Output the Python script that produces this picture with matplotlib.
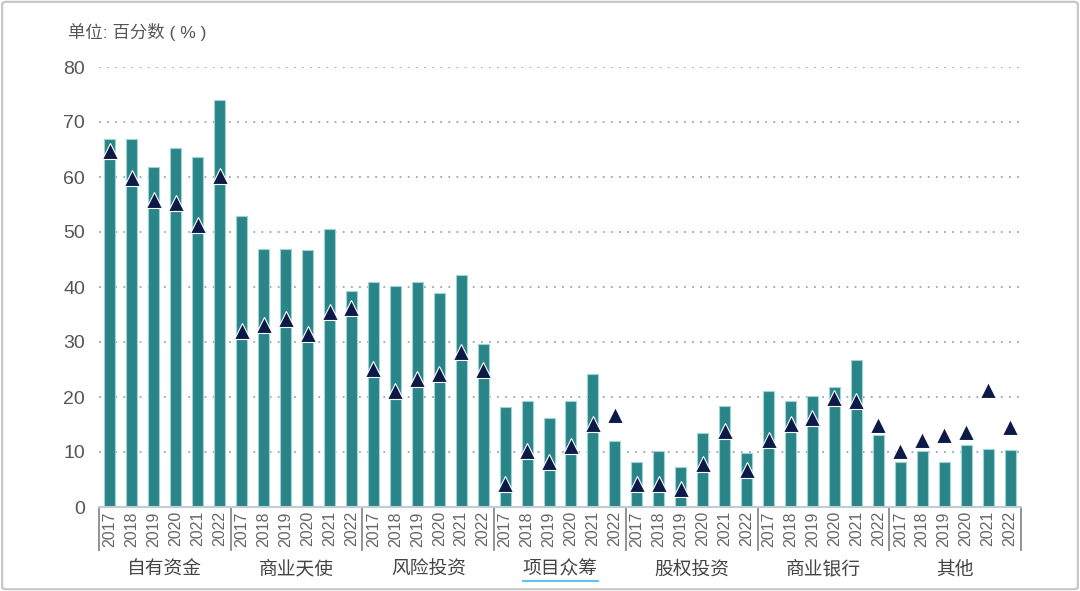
import matplotlib
matplotlib.use('Agg')
import matplotlib.pyplot as plt
from matplotlib.patches import FancyBboxPatch
import matplotlib.transforms as mtransforms
import numpy as np

plt.rcParams['font.family'] = ['Liberation Sans', 'Noto Sans CJK SC', 'DejaVu Sans']

groups = ['自有资金', '商业天使', '风险投资', '项目众筹', '股权投资', '商业银行', '其他']
years = ['2017', '2018', '2019', '2020', '2021', '2022']

# bar heights per group (2017-2022)
bar_vals = [
    [66.9, 66.9, 61.9, 65.2, 63.6, 74.0],
    [53.0, 47.0, 47.0, 46.7, 50.5, 39.3],
    [41.0, 40.1, 41.0, 39.0, 42.1, 29.6],
    [18.1, 19.2, 16.1, 19.3, 24.1, 12.0],
    [8.1, 10.2, 7.2, 13.5, 18.3, 9.9],
    [21.1, 19.2, 20.1, 21.8, 26.7, 13.1],
    [8.1, 10.2, 8.1, 11.2, 10.5, 10.4],
]
# triangle markers per group (2017-2022)
tri_vals = [
    [64.7, 59.9, 55.9, 55.2, 51.2, 60.1],
    [32.0, 33.1, 34.2, 31.5, 35.4, 36.1],
    [25.1, 21.1, 23.3, 24.1, 28.1, 24.9],
    [4.2, 10.2, 8.1, 11.1, 15.1, 16.7],
    [4.2, 4.2, 3.2, 7.8, 13.9, 6.7],
    [12.2, 15.1, 16.1, 19.8, 19.2, 15.0],
    [10.2, 12.2, 13.1, 13.7, 21.2, 14.6],
]

bars = np.array(bar_vals).ravel()
tris = np.array(tri_vals).ravel()
x = np.arange(len(bars))
ng = len(years)

fig = plt.figure(figsize=(10.8, 5.91), dpi=100)
ax = fig.add_axes([99 / 1080, 1 - 507 / 591, 922 / 1080, 440 / 591])

# frame around the picture
fig.patches.append(FancyBboxPatch((0.002, 0.003), 0.996, 0.994,
                                  boxstyle='round,pad=0,rounding_size=0.004',
                                  transform=fig.transFigure, fill=False,
                                  edgecolor='#c4c4c4', linewidth=1.5))

ax.bar(x, bars, width=0.5, color='#2a8589', edgecolor='#9fd3d6',
       linewidth=0.8, zorder=2)

# light base line under triangles sitting inside the bars
inside = tris < bars
ax.hlines(tris[inside] - 0.7, x[inside] - 0.25, x[inside] + 0.25,
          color='#b5e3e6', linewidth=1.0, zorder=3)
ax.plot(x, tris, linestyle='none', marker='^', markersize=11,
        markerfacecolor='#0d1a48', markeredgecolor='white',
        markeredgewidth=0.8, zorder=4)

ax.set_xlim(-0.5, len(bars) - 0.5)
ax.set_ylim(0, 80)
ax.set_yticks(range(0, 81, 10))
ax.yaxis.grid(True, linestyle=(0, (1, 3.5)), color='#9aa6b2', linewidth=1.3)
ax.set_axisbelow(True)
for s in ['left', 'right', 'top']:
    ax.spines[s].set_visible(False)
ax.spines['bottom'].set_color('#c3ccd2')
ax.spines['bottom'].set_linewidth(1.5)

ax.tick_params(axis='y', length=0, pad=10, labelsize=14, labelcolor='#555555')
ax.set_xticks(x)
ax.set_xticklabels(years * len(groups), rotation=90, fontsize=11.5,
                   color='#666666')
ax.tick_params(axis='x', length=0, pad=3)

trans = mtransforms.blended_transform_factory(ax.transData, ax.transAxes)
for i in range(len(groups) + 1):
    xs = i * ng - 0.5
    ax.plot([xs, xs], [0, -0.098], transform=trans, color='#8a8a8a',
            linewidth=1.3, clip_on=False)

labels = []
for i, g in enumerate(groups):
    t = ax.text(i * ng + (ng - 1) / 2, -0.143, g, transform=trans,
                ha='center', va='center', fontsize=13.5, color='#444444')
    labels.append(t)

fig.text(68 / 1080, 1 - 32 / 591, '单位: 百分数 ( % )', ha='left', va='center',
         fontsize=12.5, color='#555555')

# blue underline below 项目众筹
fig.canvas.draw()
bb = labels[3].get_window_extent()
fig.add_artist(plt.Line2D([bb.x0 / 1080, bb.x1 / 1080],
                          [(bb.y0 - 2) / 591, (bb.y0 - 2) / 591],
                          color='#5ec3ee', linewidth=1.5))

fig.savefig('out.png', dpi=100)
